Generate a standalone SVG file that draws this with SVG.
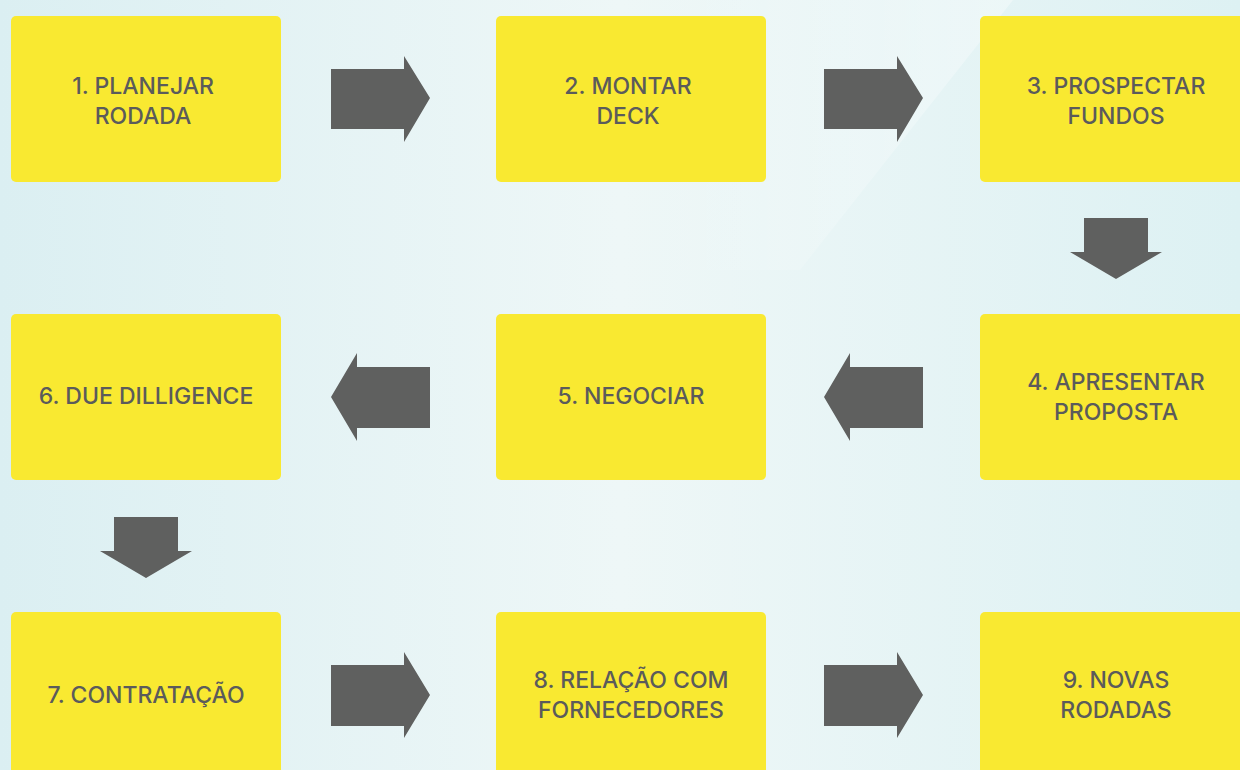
<svg xmlns="http://www.w3.org/2000/svg" width="1240" height="770" viewBox="0 0 1240 770">
<defs>
<linearGradient id="bg" x1="0" y1="0" x2="1" y2="0">
<stop offset="0" stop-color="#dbeff2"/>
<stop offset="0.5" stop-color="#eef7f7"/>
<stop offset="1" stop-color="#ddf1f3"/>
</linearGradient>
<linearGradient id="sheen" x1="1" y1="0" x2="0" y2="0">
<stop offset="0" stop-color="#ffffff" stop-opacity="0.35"/>
<stop offset="1" stop-color="#ffffff" stop-opacity="0"/>
</linearGradient>
<style>
.box{fill:#f9e931}
.arr{fill:#5f605f}
.t{font-family:Inter,"Noto Sans",sans-serif;font-weight:500;font-size:23px;fill:#5b5b5b;text-anchor:middle}
</style>
</defs>
<rect width="1240" height="770" fill="url(#bg)"/>
<polygon points="1013,0 800,270 640,270 640,0" fill="url(#sheen)"/>
<g id="n1"><rect class="box" x="11" y="16" width="270" height="166" rx="5"/><text class="t" x="143" y="94">1. PLANEJAR</text><text class="t" x="143" y="124">RODADA</text></g>
<g id="n2"><rect class="box" x="496" y="16" width="270" height="166" rx="5"/><text class="t" x="628" y="94">2. MONTAR</text><text class="t" x="628" y="124">DECK</text></g>
<g id="n3"><rect class="box" x="980" y="16" width="270" height="166" rx="5"/><text class="t" x="1116" y="94">3. PROSPECTAR</text><text class="t" x="1116" y="124">FUNDOS</text></g>
<g id="n4"><rect class="box" x="980" y="314" width="270" height="166" rx="5"/><text class="t" x="1116" y="390">4. APRESENTAR</text><text class="t" x="1116" y="420">PROPOSTA</text></g>
<g id="n5"><rect class="box" x="496" y="314" width="270" height="166" rx="5"/><text class="t" x="631" y="404">5. NEGOCIAR</text></g>
<g id="n6"><rect class="box" x="11" y="314" width="270" height="166" rx="5"/><text class="t" x="146" y="404">6. DUE DILLIGENCE</text></g>
<g id="n7"><rect class="box" x="11" y="612" width="270" height="166" rx="5"/><text class="t" x="146" y="703">7. CONTRATAÇÃO</text></g>
<g id="n8"><rect class="box" x="496" y="612" width="270" height="166" rx="5"/><text class="t" x="631" y="688">8. RELAÇÃO COM</text><text class="t" x="631" y="718">FORNECEDORES</text></g>
<g id="n9"><rect class="box" x="980" y="612" width="270" height="166" rx="5"/><text class="t" x="1116" y="688">9. NOVAS</text><text class="t" x="1116" y="718">RODADAS</text></g>
<g id="connectors">
<polygon class="arr" points="331,69 404,69 404,56 430,98 404,142 404,129 331,129"/>
<polygon class="arr" points="824,69 897,69 897,56 923,98 897,142 897,129 824,129"/>
<polygon class="arr" points="1084,218 1148,218 1148,252 1162,252 1116,279 1070,252 1084,252"/>
<polygon class="arr" points="923,367 850,367 850,353 824,397 850,441 850,428 923,428"/>
<polygon class="arr" points="430,367 357,367 357,353 331,397 357,441 357,428 430,428"/>
<polygon class="arr" points="114,517 178,517 178,551 192,551 146,578 100,551 114,551"/>
<polygon class="arr" points="331,665 404,665 404,652 430,695 404,738 404,726 331,726"/>
<polygon class="arr" points="824,665 897,665 897,652 923,695 897,738 897,726 824,726"/>
</g>
</svg>
